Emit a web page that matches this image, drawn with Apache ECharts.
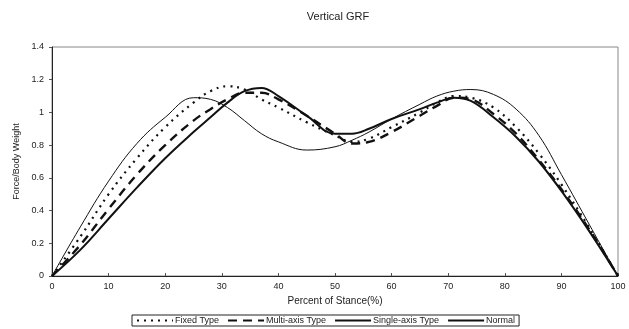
<!DOCTYPE html>
<html>
<head>
<meta charset="utf-8">
<script src="https://cdn.jsdelivr.net/npm/echarts@6/dist/echarts.min.js"></script>
<style>
  html, body { margin: 0; padding: 0; background: #fff; }
  #chart { width: 629px; height: 329px; }
</style>
</head>
<body>
<div id="chart"></div>
<script>
// percent of stance
const stance = [0, 5, 10, 15, 20, 25, 28, 31, 34, 37, 40, 45, 50, 53, 56, 60, 65, 68, 71, 74, 78, 82, 86, 90, 95, 100];
const fixedType = [0, 0.24, 0.50, 0.72, 0.91, 1.06, 1.13, 1.16, 1.14, 1.08, 1.03, 0.94, 0.86, 0.82, 0.84, 0.91, 1.00, 1.06, 1.10, 1.09, 1.03, 0.91, 0.75, 0.56, 0.29, 0];
const multiAxis = [0, 0.19, 0.41, 0.62, 0.80, 0.95, 1.02, 1.08, 1.12, 1.12, 1.08, 0.98, 0.87, 0.81, 0.82, 0.88, 0.98, 1.04, 1.09, 1.08, 0.99, 0.87, 0.71, 0.53, 0.28, 0];
const singleAxis = [0, 0.16, 0.35, 0.54, 0.72, 0.88, 0.97, 1.06, 1.13, 1.15, 1.10, 0.98, 0.87, 0.87, 0.90, 0.96, 1.02, 1.06, 1.09, 1.07, 0.97, 0.85, 0.70, 0.52, 0.27, 0];
const normal = [0, 0.30, 0.58, 0.81, 0.97, 1.09, 1.08, 1.03, 0.95, 0.87, 0.82, 0.77, 0.79, 0.83, 0.88, 0.96, 1.05, 1.10, 1.13, 1.14, 1.11, 1.02, 0.86, 0.62, 0.31, 0];
const seriesNames = ["Fixed Type", "Multi-axis Type", "Single-axis Type", "Normal"];

function pairs(ys) {
  return stance.map((x, i) => [x, ys[i]]);
}

const chart = echarts.init(document.getElementById("chart"));
const font = "Liberation Sans";
const lineSeries = (name, ys, lineStyle) => ({
  name: name,
  type: "line",
  smooth: 0.4,
  symbol: "none",
  color: "#111",
  lineStyle: Object.assign({ color: "#111" }, lineStyle),
  data: pairs(ys)
});

const option = {
  animation: false,
  title: {
    text: "Vertical GRF",
    left: 333,
    top: 6,
    textAlign: "center",
    textStyle: { fontFamily: font, fontSize: 11, fontWeight: "normal", color: "#222" }
  },
  grid: {
    left: 52,
    right: 11,
    top: 47,
    bottom: 53,
    show: true,
    borderColor: "#888",
    borderWidth: 1
  },
  legend: {
    data: seriesNames,
    left: 132,
    top: 315,
    padding: [1, 4, 1, 4],
    itemGap: 8,
    itemWidth: 36,
    itemHeight: 8,
    borderColor: "#222",
    borderWidth: 1,
    itemStyle: { color: "transparent", borderWidth: 0, opacity: 0 },
    textStyle: { fontFamily: font, fontSize: 9, color: "#222", padding: [0, 0, 0, -3] }
  },
  xAxis: {
    type: "value",
    min: 0,
    max: 100,
    interval: 10,
    name: "Percent of Stance(%)",
    nameLocation: "middle",
    nameGap: 20,
    nameTextStyle: { fontFamily: font, fontSize: 10, color: "#222" },
    axisLine: { lineStyle: { color: "#222" } },
    axisTick: { inside: true, length: 3, lineStyle: { color: "#555" } },
    axisLabel: { fontFamily: font, fontSize: 9, color: "#222", margin: 6 },
    splitLine: { show: false }
  },
  yAxis: {
    type: "value",
    min: 0,
    max: 1.4,
    interval: 0.2,
    name: "Force/Body Weight",
    nameLocation: "middle",
    nameGap: 27,
    nameTextStyle: { fontFamily: font, fontSize: 9, color: "#222" },
    axisLine: { show: true, lineStyle: { color: "#222" } },
    axisTick: { show: true, length: 3, lineStyle: { color: "#555" } },
    axisLabel: { fontFamily: font, fontSize: 9, color: "#222", margin: 8 },
    splitLine: { show: false }
  },
  series: [
    lineSeries(seriesNames[0], fixedType, { width: 2.2, type: [2, 5] }),
    lineSeries(seriesNames[1], multiAxis, { width: 2.4, type: [9, 6] }),
    lineSeries(seriesNames[2], singleAxis, { width: 2 }),
    lineSeries(seriesNames[3], normal, { width: 1 })
  ]
};
chart.setOption(option);
</script>
</body>
</html>
